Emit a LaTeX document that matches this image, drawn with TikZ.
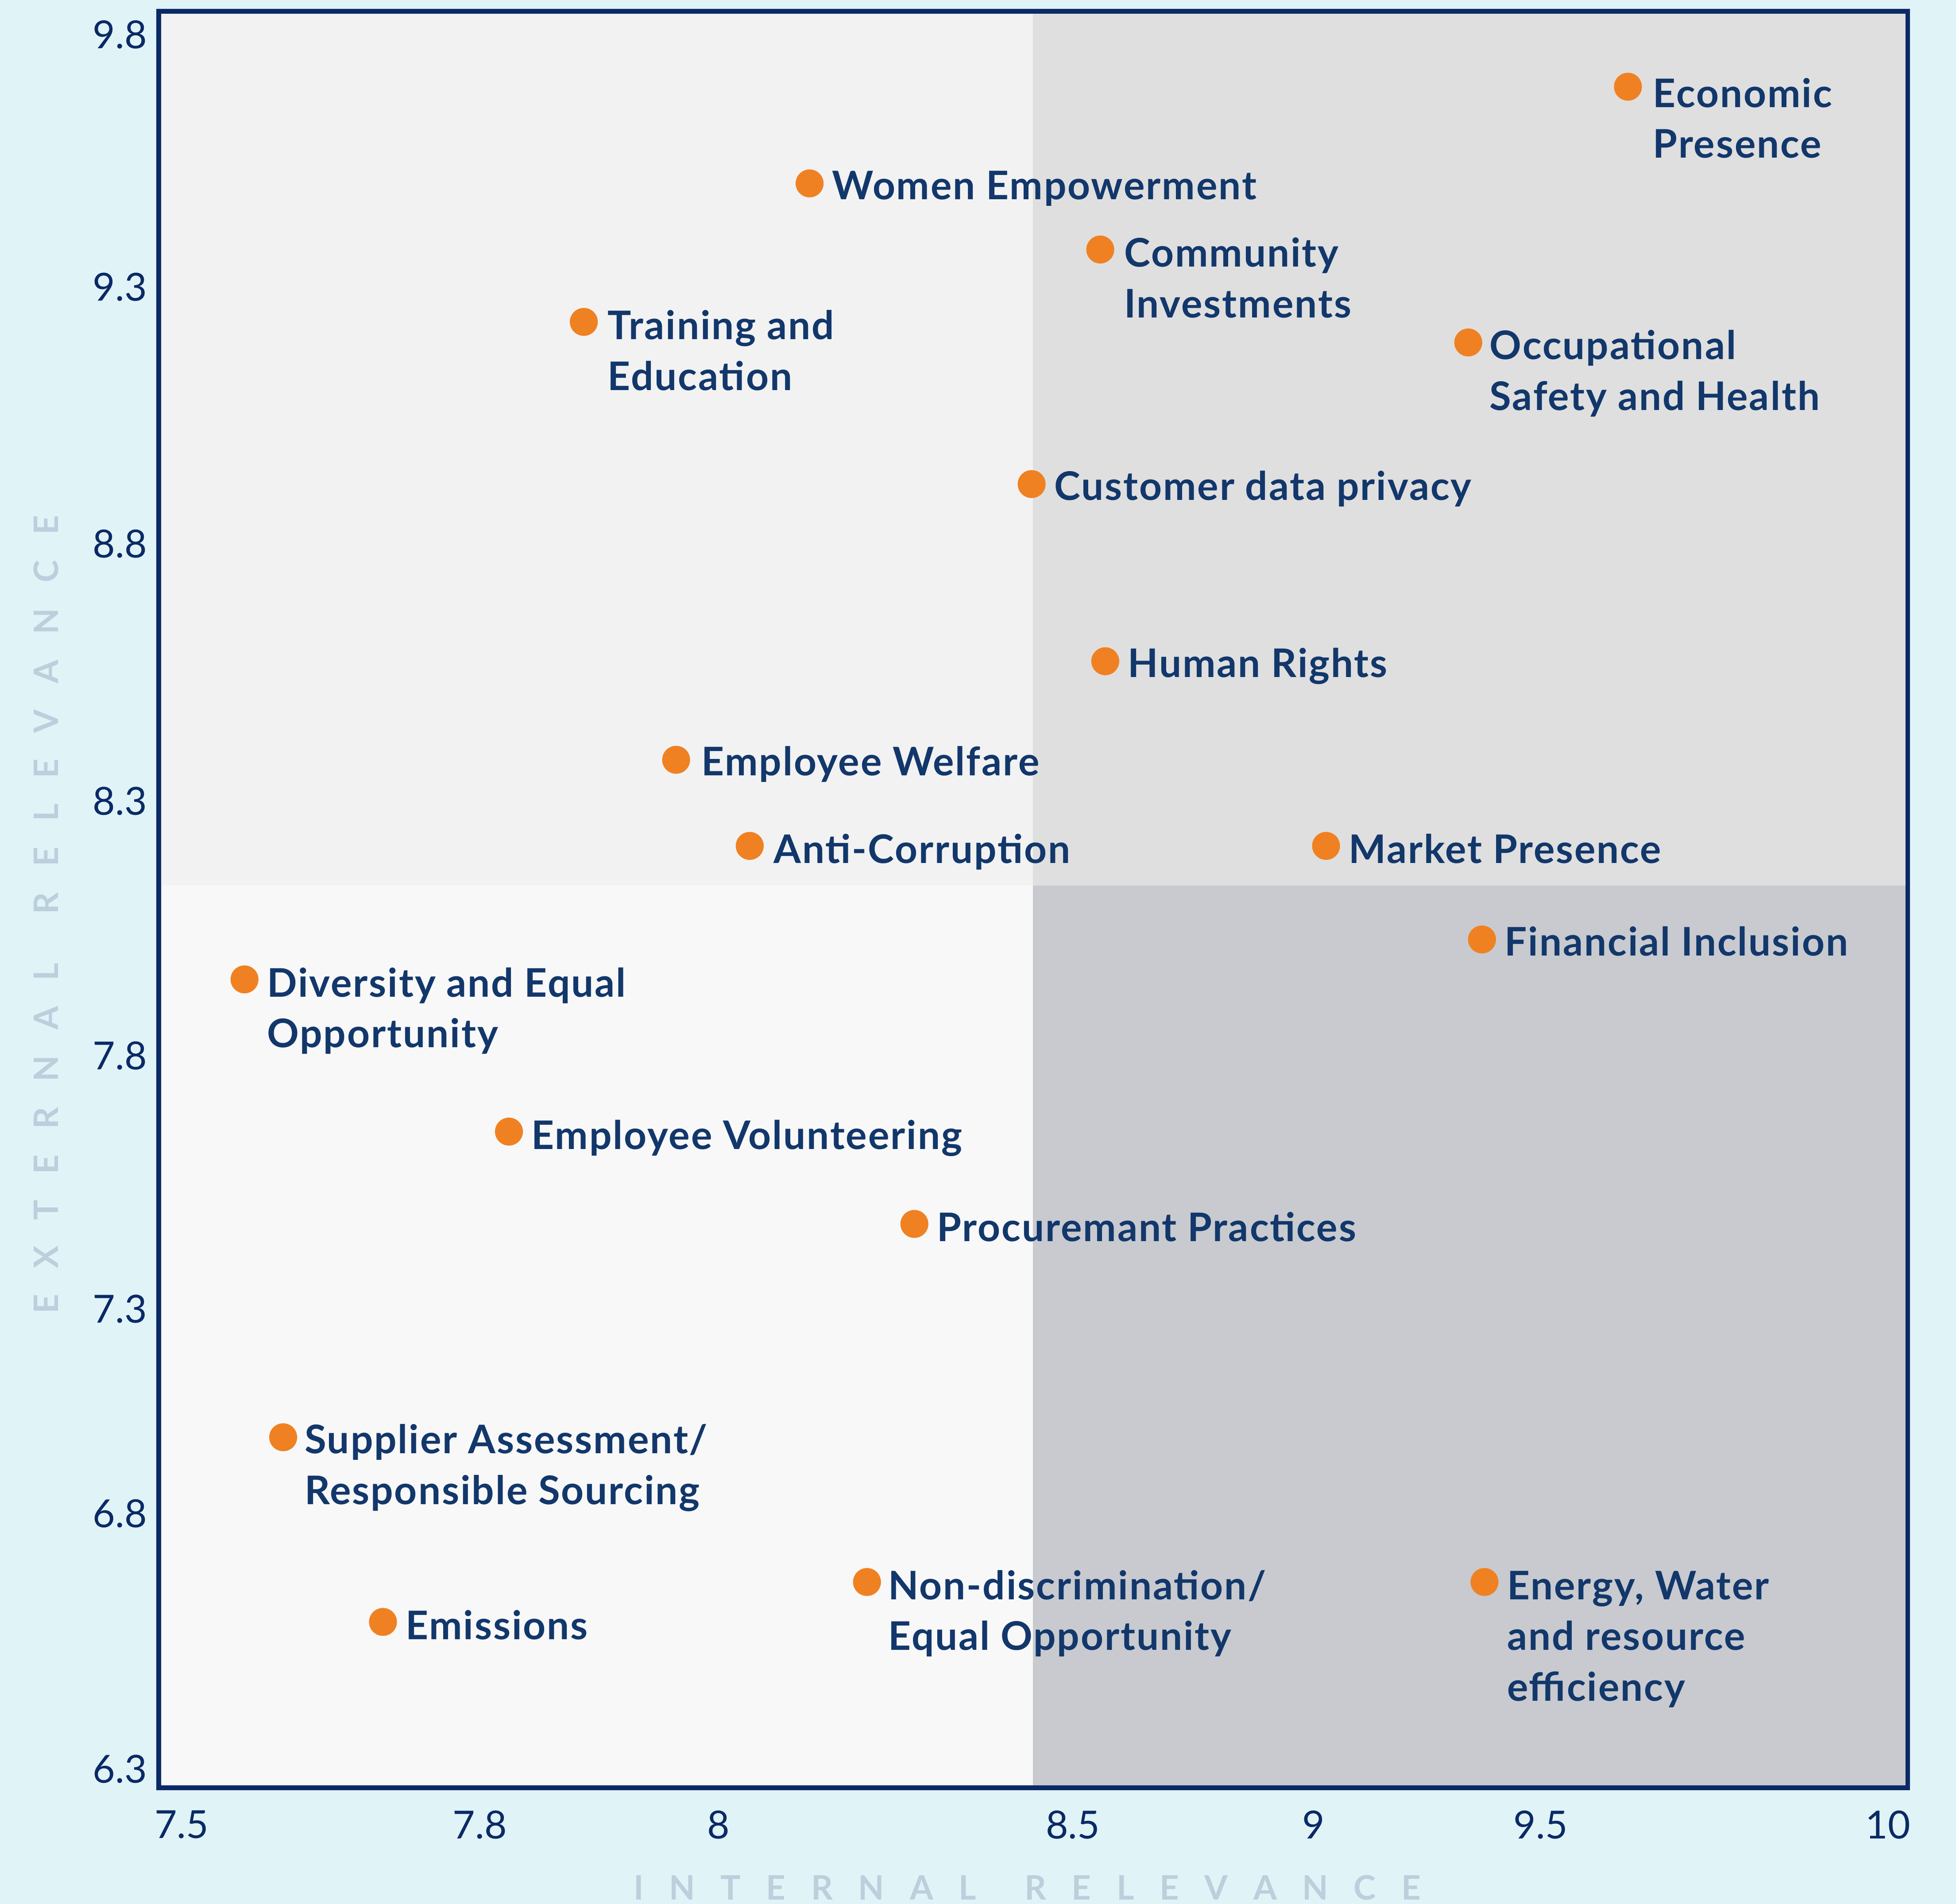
\documentclass[tikz,border=0pt]{standalone}
\usepackage{fontspec}
\setmainfont{Lato}
\newfontfamily\lblfont{Lato}[LetterSpace=3.2]
\definecolor{bgcyan}{HTML}{E0F3F7}
\definecolor{navy}{HTML}{0A2A66}
\definecolor{lblnavy}{HTML}{12376B}
\definecolor{dotorange}{HTML}{F08122}
\definecolor{qtl}{HTML}{F2F2F2}
\definecolor{qtr}{HTML}{DFDFDF}
\definecolor{qbl}{HTML}{F8F8F8}
\definecolor{qbr}{HTML}{C8CACF}
\definecolor{titlegrey}{HTML}{BCCFDD}
\begin{document}
\begin{tikzpicture}[x=1pt,y=-1pt,
  dot/.style={circle,fill=dotorange,minimum size=22.4pt,inner sep=0pt},
  lbl/.style={anchor=base west,inner sep=0pt,align=left,text=lblnavy,
    font=\lblfont\fontsize{31.6}{40.7}\selectfont\bfseries},
  lbltwo/.style={lbl,yshift=-40.7pt},
  lblthree/.style={lbl,yshift=-81.4pt},
  ytick/.style={anchor=east,inner sep=0pt,text=navy,font=\fontsize{31}{36}\selectfont},
  xtick/.style={anchor=center,inner sep=0pt,text=navy,font=\fontsize{31}{36}\selectfont},
  axtitle/.style={inner sep=0pt,text=titlegrey,font=\fontsize{27}{30}\selectfont\bfseries},
  frame/.style={draw=navy,line width=3.8pt}]
\useasboundingbox (0,0) rectangle (1568,1526);
\fill[bgcyan] (0,0) rectangle (1568,1526);
% quadrants
\fill[qtl] (129,11) rectangle (828,709.7);
\fill[qtr] (828,11) rectangle (1527.5,709.7);
\fill[qbl] (129,709.7) rectangle (828,1431);
\fill[qbr] (828,709.7) rectangle (1527.5,1431);
\draw[frame] (127.2,9) rectangle (1529.3,1433);
% y ticks
\node[ytick] (y98) at (118,27.6) {9.8};
\node[ytick] (y93) at (118,230) {9.3};
\node[ytick] (y88) at (118,436) {8.8};
\node[ytick] (y83) at (118,642) {8.3};
\node[ytick] (y78) at (118,846) {7.8};
\node[ytick] (y73) at (118,1049) {7.3};
\node[ytick] (y68) at (118,1213) {6.8};
\node[ytick] (y63) at (118,1418) {6.3};
% x ticks
\node[xtick] (x75) at (145.6,1462.5) {7.5};
\node[xtick] (x78) at (384.7,1462.5) {7.8};
\node[xtick] (x80) at (576,1462.5) {8};
\node[xtick] (x85) at (860,1462.5) {8.5};
\node[xtick] (x90) at (1053,1462.5) {9};
\node[xtick] (x95) at (1235,1462.5) {9.5};
\node[xtick] (x100) at (1513.5,1462.5) {10};
% axis titles
\node[axtitle] (xtitle) at (823.5,1513) {\makebox[631pt][s]{I\hfill N\hfill T\hfill E\hfill R\hfill N\hfill A\hfill L\hspace{\stretch{1.9}}R\hfill E\hfill L\hfill E\hfill V\hfill A\hfill N\hfill C\hfill E}};
\node[axtitle,rotate=90] (ytitle) at (37,733) {\makebox[640pt][s]{E\hfill X\hfill T\hfill E\hfill R\hfill N\hfill A\hfill L\hspace{\stretch{1.9}}R\hfill E\hfill L\hfill E\hfill V\hfill A\hfill N\hfill C\hfill E}};
% points
\node[dot] (d1) at (1305,69.5) {};
\node[lbltwo] (t1) at (1325,86) {Economic\\Presence};
\node[dot] (d2) at (649,147) {};
\node[lbl] (t2) at (667,160) {Women Empowerment};
\node[dot] (d3) at (882,200) {};
\node[lbltwo] (t3) at (901,214) {Community\\Investments};
\node[dot] (d4) at (468,258) {};
\node[lbltwo] (t4) at (487,272) {Training and\\Education};
\node[dot] (d5) at (1177,274.5) {};
\node[lbltwo] (t5) at (1194,288) {Occupational\\Safety and Health};
\node[dot] (d6) at (827,388) {};
\node[lbl] (t6) at (845,401) {Customer data privacy};
\node[dot] (d7) at (886,530) {};
\node[lbl] (t7) at (904,543) {Human Rights};
\node[dot] (d8) at (542,609) {};
\node[lbl] (t8) at (562,621.5) {Employee Welfare};
\node[dot] (d9) at (601,678) {};
\node[lbl] (t9) at (620,692) {Anti-Corruption};
\node[dot] (d10) at (1063,678) {};
\node[lbl] (t10) at (1081,692) {Market Presence};
\node[dot] (d11) at (1188,753) {};
\node[lbl] (t11) at (1206,766) {Financial Inclusion};
\node[dot] (d12) at (196,785) {};
\node[lbltwo] (t12) at (214,799) {Diversity and Equal\\Opportunity};
\node[dot] (d13) at (408,907) {};
\node[lbl] (t13) at (426,921) {Employee Volunteering};
\node[dot] (d14) at (733,981) {};
\node[lbl] (t14) at (751,995) {Procuremant Practices};
\node[dot] (d15) at (227,1152) {};
\node[lbltwo] (t15) at (244,1165) {Supplier Assessment/\\Responsible Sourcing};
\node[dot] (d16) at (307,1300) {};
\node[lbl] (t16) at (325,1314) {Emissions};
\node[dot] (d17) at (695,1268) {};
\node[lbltwo] (t17) at (712,1282) {Non-discrimination/\\Equal Opportunity};
\node[dot] (d18) at (1190,1268) {};
\node[lblthree] (t18) at (1208,1282) {Energy, Water\\and resource\\efficiency};
\end{tikzpicture}
\end{document}
